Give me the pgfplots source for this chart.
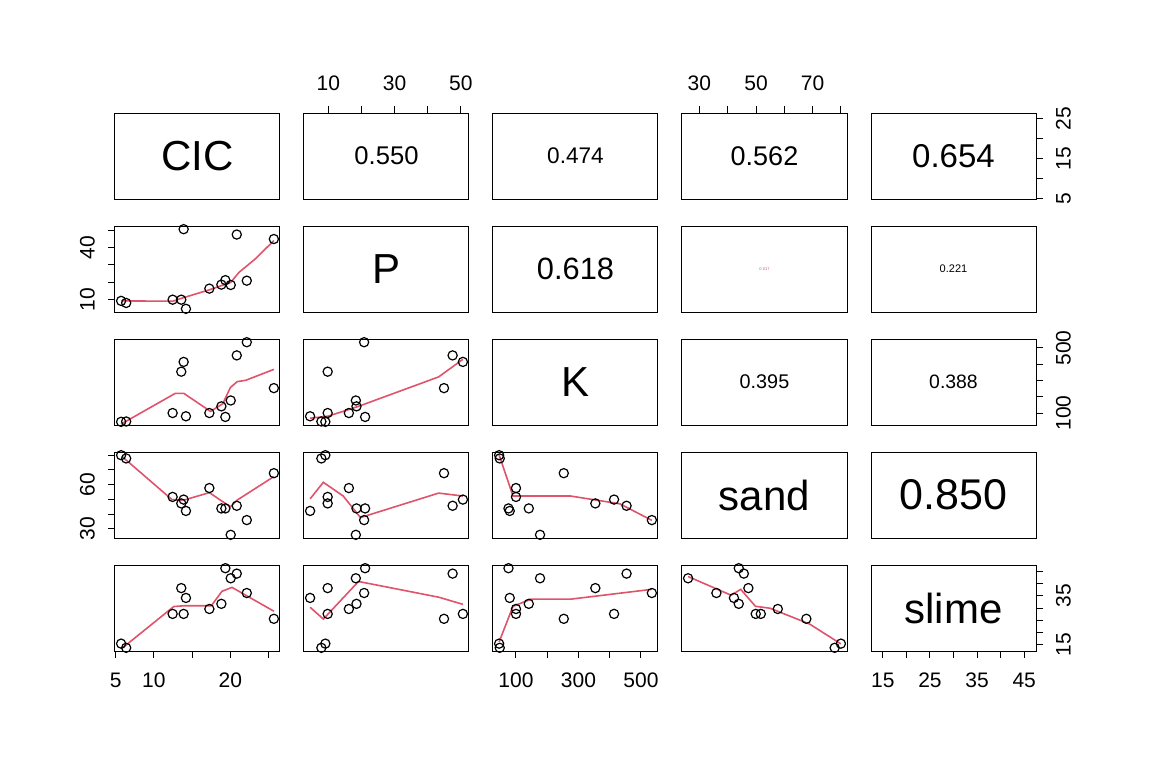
\documentclass[border=0pt]{standalone}
\usepackage{pgfplots}
\pgfplotsset{compat=1.18}
\usepackage{pgfplotstable}
\usepgfplotslibrary{groupplots}
\usepackage{fontspec}
\setmainfont{Liberation Sans}
\definecolor{rred}{HTML}{DF536B}
\pgfplotstableread{
CIC P K sand slime
5.72 9.1 46 80.0 15.5
6.38 7.9 48 77.8 13.8
12.45 9.8 100 51.7 27.6
13.58 9.8 354 47.3 38.1
13.89 50.6 414 49.9 27.6
14.19 4.5 80 42.2 34.1
17.25 16.2 100 57.7 29.6
18.82 18.5 141 43.9 31.7
19.34 21.1 76 43.9 46.2
20.04 18.3 177 26.0 42.1
20.83 47.5 454 45.7 44.0
22.14 20.8 535 36.0 36.1
25.68 44.9 253 67.8 25.6
}\data
\pgfplotsset{
  every axis/.append style={scale only axis, width=82.5pt, height=43pt,
    axis line style={line width=0.5pt}, xtick=\empty, ytick=\empty,
    tick align=outside, major tick length=3.5pt, every tick/.style={black,line width=0.5pt},
    tick label style={font=\fontsize{10.5}{11}\selectfont},
    /pgf/number format/assume math mode=true, clip=false},
  cCIC/.style={xmin=4.92,xmax=26.48}, rCIC/.style={ymin=4.92,ymax=26.48},
  cP/.style={xmin=2.66,xmax=52.44}, rP/.style={ymin=2.66,ymax=52.44},
  cK/.style={xmin=26.4,xmax=554.6}, rK/.style={ymin=26.4,ymax=554.6},
  cS/.style={xmin=23.84,xmax=82.16}, rS/.style={ymin=23.84,ymax=82.16},
  cL/.style={xmin=12.5,xmax=47.5}, rL/.style={ymin=12.5,ymax=47.5},
  pts/.style={only marks, mark=o, mark size=2.3pt, black, mark options={line width=0.6pt}},
  lo/.style={rred, line width=0.8pt, mark=none},
  leftt/.style={ytick pos=left, yticklabel pos=left, yticklabel style={rotate=90,anchor=south,yshift=3pt}},
  rightt/.style={ytick pos=right, yticklabel pos=right, yticklabel style={rotate=90,anchor=north,yshift=-3pt}},
  topt/.style={xtick pos=right, xticklabel pos=right, xticklabel style={yshift=4pt}},
  bott/.style={xtick pos=left, xticklabel pos=left, xticklabel style={yshift=-4pt}},
}
\newcommand{\cor}[2]{\node[font=\fontsize{#1}{#1}\selectfont] at (rel axis cs:0.5,0.5) {#2};}
\newcommand{\nm}[1]{\node[font=\fontsize{21}{21}\selectfont] at (rel axis cs:0.5,0.5) {#1};}
\begin{document}
\begin{tikzpicture}
\begin{groupplot}[group style={group name=G, group size=5 by 5, horizontal sep=12pt, vertical sep=13.5pt}]
% row 1
\nextgroupplot[cCIC,rCIC] \nm{CIC}
\nextgroupplot[cP,rCIC,topt,xtick={10,20,30,40,50},xticklabels={10,,30,,50}] \cor{12.8}{0.550}
\nextgroupplot[cK,rCIC] \cor{11.3}{0.474}
\nextgroupplot[cS,rCIC,topt,xtick={30,40,50,60,70,80},xticklabels={30,,50,,70,}] \cor{13.5}{0.562}
\nextgroupplot[cL,rCIC,rightt,ytick={5,10,15,20,25},yticklabels={5,,15,,25}] \cor{16.5}{0.654}
% row 2
\nextgroupplot[cCIC,rP,leftt,ytick={10,20,30,40,50},yticklabels={10,,,40,}]
\addplot[pts] table[x=CIC,y=P]{\data};
\addplot[lo] coordinates {(5.72,9.1)(12.45,8.9)(13.9,11.0)(17.25,15.5)(20.04,19.8)(21.1,25.5)(23.3,33.6)(25.68,44.0)};
\nextgroupplot[cP,rP] \nm{P}
\nextgroupplot[cK,rP] \cor{15.4}{0.618}
\nextgroupplot[cS,rP] \node[text=rred,font=\fontsize{2}{2}\selectfont] at (rel axis cs:0.5,0.5) {0.017};
\nextgroupplot[cL,rP] \cor{5.5}{0.221}
% row 3
\nextgroupplot[cCIC,rK]
\addplot[pts] table[x=CIC,y=K]{\data};
\addplot[lo] coordinates {(5.72,32)(12.8,221)(13.9,221)(17.4,110)(19,157)(20,257)(20.9,293)(22,301)(25.68,368)};
\nextgroupplot[cP,rK]
\addplot[pts] table[x=P,y=K]{\data};
\addplot[lo] coordinates {(4.5,68)(10,81)(19.1,141)(43.3,322)(50.6,430)};
\nextgroupplot[cK,rK] \nm{K}
\nextgroupplot[cS,rK] \cor{9.9}{0.395}
\nextgroupplot[cL,rK,rightt,ytick={100,200,300,400,500},yticklabels={100,,,,500}] \cor{9.7}{0.388}
% row 4
\nextgroupplot[cCIC,rS,leftt,ytick={30,40,50,60,70,80},yticklabels={30,,,60,,}]
\addplot[pts] table[x=CIC,y=sand]{\data};
\addplot[lo] coordinates {(5.8,79.3)(12.36,49.9)(13.89,49.5)(17.25,54.6)(20.0,45.0)(20.87,49.5)(25.68,65.5)};
\nextgroupplot[cP,rS]
\addplot[pts] table[x=P,y=sand]{\data};
\addplot[lo] coordinates {(4.5,50.4)(8.5,61.6)(14.5,52.3)(19.7,37.7)(43.3,54.3)(50.6,52.3)};
\nextgroupplot[cK,rS]
\addplot[pts] table[x=K,y=sand]{\data};
\addplot[lo] coordinates {(46,80.2)(90.5,52.3)(132,52.3)(275,52.3)(433,47)(535,35.8)};
\nextgroupplot[cS,rS] \nm{sand}
\nextgroupplot[cL,rS] \cor{21.5}{0.850}
% row 5
\nextgroupplot[cCIC,rL,bott,xtick={5,10,15,20,25},xticklabels={5,10,,20,}]
\addplot[pts] table[x=CIC,y=slime]{\data};
\addplot[lo] coordinates {(5.8,13.5)(12.6,30.6)(13.89,30.9)(17.5,30.9)(18.9,36.8)(20.2,38.4)(25.68,28.7)};
\nextgroupplot[cP,rL]
\addplot[pts] table[x=P,y=slime]{\data};
\addplot[lo] coordinates {(4.5,30.3)(8.5,25.5)(19.1,40.8)(43.3,34.4)(50.6,31.5)};
\nextgroupplot[cK,rL,bott,xtick={100,200,300,400,500},xticklabels={100,,300,,500}]
\addplot[pts] table[x=K,y=slime]{\data};
\addplot[lo] coordinates {(46,16.2)(90.5,30.7)(148,33.6)(275,33.6)(535,37.6)};
\nextgroupplot[cS,rL]
\addplot[pts] table[x=sand,y=slime]{\data};
\addplot[lo] coordinates {(26,42.8)(41.2,35.2)(44.6,37.6)(49.8,30.7)(55,29.9)(68.9,23.5)(80,15.4)};
\nextgroupplot[cL,rL,bott,xtick={15,20,25,30,35,40,45},xticklabels={15,,25,,35,,45},rightt,ytick={15,20,25,30,35,40,45},yticklabels={15,,,,35,,}] \nm{slime}
\end{groupplot}
\pgfresetboundingbox
\useasboundingbox (G c1r1.north west) ++(-57.5pt,56.5pt) rectangle ++(576pt,-384pt);
\end{tikzpicture}
\end{document}
